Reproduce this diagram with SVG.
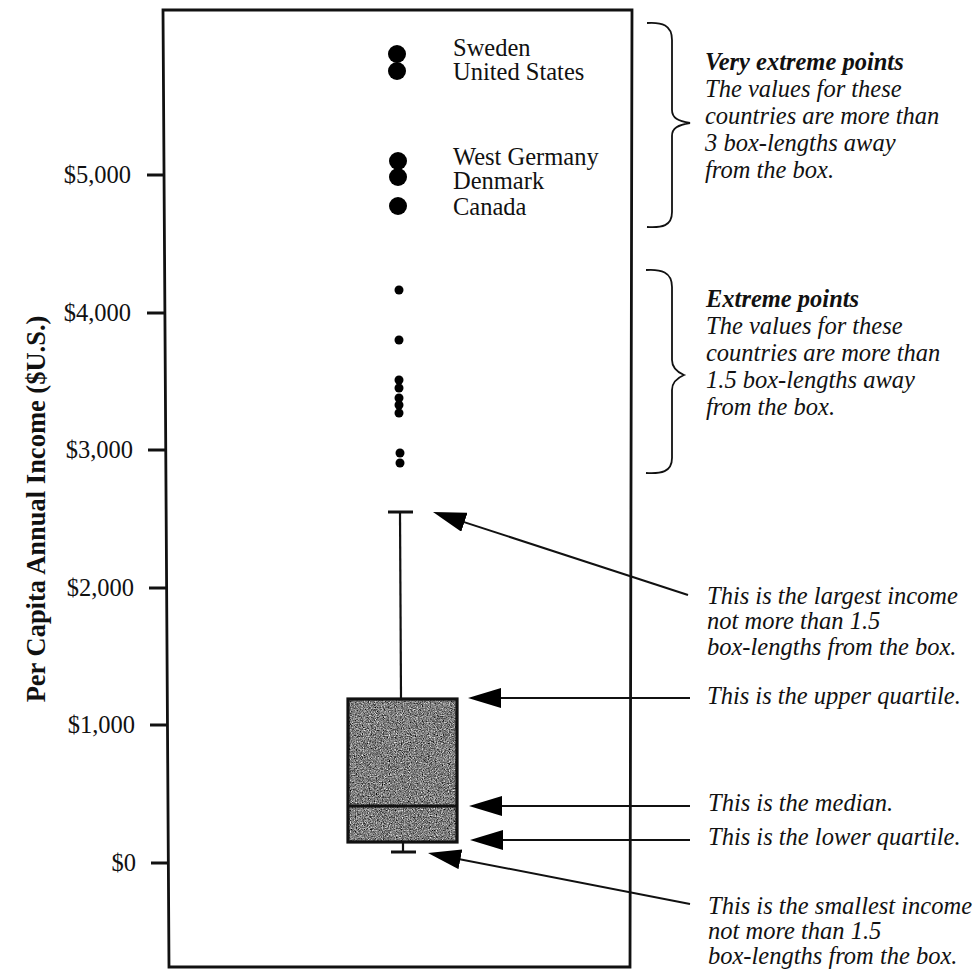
<svg xmlns="http://www.w3.org/2000/svg" width="977" height="972" viewBox="0 0 977 972">
<defs>
<style>
.serif{font-family:"Liberation Serif","Times New Roman",serif;fill:#111;}
.lbl{font-size:24.5px;}
.ital{font-size:24.5px;font-style:italic;}
.bi{font-weight:bold;}
.tick{stroke:#111;stroke-width:3;}
.conn{stroke:#111;stroke-width:2;fill:none;}
.brace{stroke:#111;stroke-width:1.8;fill:none;}
.big{fill:#000;}
.small{fill:#000;}
</style>
<marker id="ah" viewBox="0 0 33 20" refX="23" refY="10" markerWidth="33" markerHeight="20" markerUnits="userSpaceOnUse" orient="auto">
<path d="M0,0 L33,10 L0,20 Z" fill="#000"/>
</marker>
<filter id="grain" x="0" y="0" width="1" height="1" filterUnits="objectBoundingBox" color-interpolation-filters="sRGB">
<feTurbulence type="fractalNoise" baseFrequency="0.85" numOctaves="3" seed="7"/>
<feColorMatrix type="matrix" values="0.33 0.33 0.33 0 0 0.33 0.33 0.33 0 0 0.33 0.33 0.33 0 0 0 0 0 0 1"/>
<feComponentTransfer>
<feFuncR type="linear" slope="2.2" intercept="-0.6"/>
<feFuncG type="linear" slope="2.2" intercept="-0.6"/>
<feFuncB type="linear" slope="2.2" intercept="-0.6"/>
</feComponentTransfer>
</filter>
</defs>
<rect width="977" height="972" fill="#fff"/>

<g id="frame">
<path d="M163,10 L632,10 L630,967 L169,967 Z" fill="none" stroke="#111" stroke-width="2.8"/>
</g>

<g id="y-axis">
<line class="tick" x1="147" y1="175" x2="164" y2="175"/>
<line class="tick" x1="147" y1="313" x2="165" y2="313"/>
<line class="tick" x1="148" y1="450" x2="165" y2="450"/>
<line class="tick" x1="149" y1="588" x2="166" y2="588"/>
<line class="tick" x1="150" y1="725" x2="167" y2="725"/>
<line class="tick" x1="151" y1="863" x2="168" y2="863"/>
<text class="serif lbl" x="131" y="183" text-anchor="end">$5,000</text>
<text class="serif lbl" x="131" y="321" text-anchor="end">$4,000</text>
<text class="serif lbl" x="133" y="458" text-anchor="end">$3,000</text>
<text class="serif lbl" x="134" y="596" text-anchor="end">$2,000</text>
<text class="serif lbl" x="135" y="733" text-anchor="end">$1,000</text>
<text class="serif lbl" x="136" y="871" text-anchor="end">$0</text>
<text class="serif bi" font-size="26.5" transform="translate(45,509) rotate(-90)" text-anchor="middle">Per Capita Annual Income ($U.S.)</text>
</g>

<g id="very-extreme-points">
<circle class="big" cx="397" cy="54" r="9"/>
<circle class="big" cx="397" cy="71" r="9"/>
<circle class="big" cx="398" cy="161" r="9"/>
<circle class="big" cx="398" cy="177" r="9"/>
<circle class="big" cx="398" cy="206" r="9"/>
<text class="serif lbl" x="453" y="56">Sweden</text>
<text class="serif lbl" x="453" y="80">United States</text>
<text class="serif lbl" x="453" y="165">West Germany</text>
<text class="serif lbl" x="453" y="189">Denmark</text>
<text class="serif lbl" x="453" y="215">Canada</text>
</g>

<g id="extreme-points">
<circle class="small" cx="399" cy="290" r="4.5"/>
<circle class="small" cx="399" cy="340" r="4.5"/>
<circle class="small" cx="399" cy="380" r="4.5"/>
<circle class="small" cx="399" cy="388" r="4.5"/>
<circle class="small" cx="399" cy="398" r="4.5"/>
<circle class="small" cx="399" cy="405" r="4.5"/>
<circle class="small" cx="399" cy="413" r="4.5"/>
<circle class="small" cx="400" cy="453" r="4.5"/>
<circle class="small" cx="400" cy="463" r="4.5"/>
</g>

<g id="boxplot">
<line x1="400" y1="512" x2="401" y2="699" stroke="#111" stroke-width="2.2"/>
<line x1="388" y1="512" x2="413" y2="512" stroke="#111" stroke-width="3"/>
<rect x="348" y="699" width="109" height="143" fill="#7f7f7f"/>
<rect x="348" y="699" width="109" height="143" filter="url(#grain)"/>
<rect x="348" y="699" width="109" height="143" fill="none" stroke="#111" stroke-width="3.2"/>
<line x1="348" y1="806" x2="457" y2="806" stroke="#111" stroke-width="3.2"/>
<line x1="403" y1="842" x2="403" y2="852" stroke="#111" stroke-width="2.2"/>
<line x1="391" y1="852" x2="416" y2="852" stroke="#111" stroke-width="3"/>
</g>

<g id="braces">
<path class="brace" d="M647,23 C662,22 672,25 672,40 L672,110 C672,118 678,121 690,123 C678,125 672,128 672,136 L672,212 C672,226 662,228 647,227"/>
<path class="brace" d="M646,270 C661,269 672,272 672,287 L672,360 C672,368 677,372 684,375 C677,378 672,382 672,390 L672,458 C672,472 661,474 646,473"/>
</g>

<g id="brace-labels">
<text class="serif ital bi" x="705" y="70">Very extreme points</text>
<text class="serif ital" x="705" y="97">The values for these</text>
<text class="serif ital" x="705" y="124">countries are more than</text>
<text class="serif ital" x="705" y="151">3 box-lengths away</text>
<text class="serif ital" x="705" y="178">from the box.</text>
<text class="serif ital bi" x="706" y="307">Extreme points</text>
<text class="serif ital" x="706" y="334">The values for these</text>
<text class="serif ital" x="706" y="361">countries are more than</text>
<text class="serif ital" x="706" y="388">1.5 box-lengths away</text>
<text class="serif ital" x="706" y="415">from the box.</text>
</g>

<g id="connectors">
<line class="conn" x1="688" y1="595" x2="442.5" y2="515.1" marker-end="url(#ah)"/>
<line class="conn" x1="690" y1="698" x2="478" y2="698" marker-end="url(#ah)"/>
<line class="conn" x1="690" y1="806" x2="479" y2="806" marker-end="url(#ah)"/>
<line class="conn" x1="690" y1="840" x2="480" y2="840" marker-end="url(#ah)"/>
<line class="conn" x1="690" y1="904" x2="437.8" y2="854.9" marker-end="url(#ah)"/>
</g>

<g id="arrow-labels">
<text class="serif ital" x="707" y="604">This is the largest income</text>
<text class="serif ital" x="707" y="629">not more than 1.5</text>
<text class="serif ital" x="707" y="655">box-lengths from the box.</text>
<text class="serif ital" x="707" y="704">This is the upper quartile.</text>
<text class="serif ital" x="708" y="811">This is the median.</text>
<text class="serif ital" x="708" y="845">This is the lower quartile.</text>
<text class="serif ital" x="708" y="914">This is the smallest income</text>
<text class="serif ital" x="708" y="939">not more than 1.5</text>
<text class="serif ital" x="708" y="964">box-lengths from the box.</text>
</g>
</svg>
